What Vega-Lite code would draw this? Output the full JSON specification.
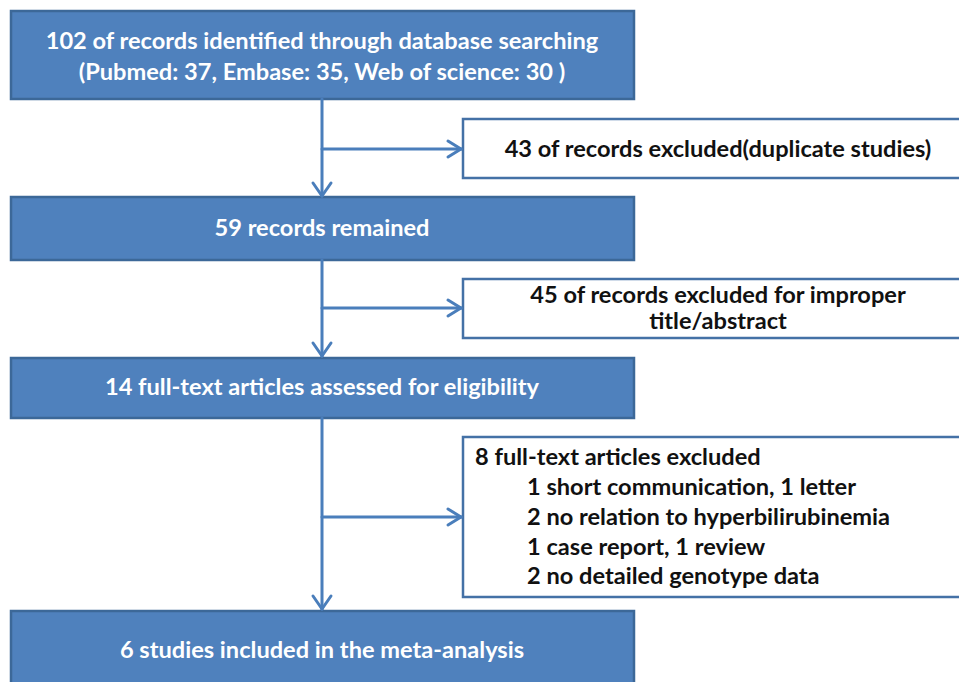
{
  "$schema": "https://vega.github.io/schema/vega-lite/v6.json",
  "width": 959,
  "height": 682,
  "padding": 0,
  "autosize": {"type": "none"},
  "background": "white",
  "config": {"view": {"stroke": null}},
  "datasets": {
    "boxes": [
      {"id": "b1", "kind": "main", "x": 11, "x2": 634, "y": 11, "y2": 99},
      {"id": "b2", "kind": "main", "x": 11, "x2": 634, "y": 197, "y2": 260},
      {"id": "b3", "kind": "main", "x": 11, "x2": 634, "y": 358, "y2": 418},
      {"id": "b4", "kind": "main", "x": 11, "x2": 634, "y": 611, "y2": 700},
      {"id": "e1", "kind": "side", "x": 463, "x2": 975, "y": 119, "y2": 178},
      {"id": "e2", "kind": "side", "x": 463, "x2": 975, "y": 279, "y2": 338},
      {"id": "e3", "kind": "side", "x": 463, "x2": 975, "y": 437, "y2": 597}
    ],
    "segments": [
      {"x": 322, "y": 99, "x2": 322, "y2": 196},
      {"x": 322, "y": 149, "x2": 461, "y2": 149},
      {"x": 322, "y": 260, "x2": 322, "y2": 356},
      {"x": 322, "y": 308, "x2": 461, "y2": 308},
      {"x": 322, "y": 418, "x2": 322, "y2": 609},
      {"x": 322, "y": 517, "x2": 461, "y2": 517},
      {"x": 313, "y": 183, "x2": 322, "y2": 196},
      {"x": 331, "y": 183, "x2": 322, "y2": 196},
      {"x": 313, "y": 343, "x2": 322, "y2": 356},
      {"x": 331, "y": 343, "x2": 322, "y2": 356},
      {"x": 313, "y": 596, "x2": 322, "y2": 609},
      {"x": 331, "y": 596, "x2": 322, "y2": 609},
      {"x": 448, "y": 141, "x2": 461, "y2": 149},
      {"x": 448, "y": 157, "x2": 461, "y2": 149},
      {"x": 448, "y": 300, "x2": 461, "y2": 308},
      {"x": 448, "y": 316, "x2": 461, "y2": 308},
      {"x": 448, "y": 509, "x2": 461, "y2": 517},
      {"x": 448, "y": 525, "x2": 461, "y2": 517}
    ],
    "texts": [
      {"kind": "main", "align": "center", "x": 322, "y": 42, "text": "102 of records identified through database searching"},
      {"kind": "main", "align": "center", "x": 322, "y": 73, "text": "(Pubmed: 37, Embase: 35, Web of science: 30 )"},
      {"kind": "main", "align": "center", "x": 322, "y": 229, "text": "59 records remained"},
      {"kind": "main", "align": "center", "x": 322, "y": 388, "text": "14 full-text articles assessed for eligibility"},
      {"kind": "main", "align": "center", "x": 322, "y": 651, "text": "6 studies included in the meta-analysis"},
      {"kind": "side", "align": "center", "x": 718, "y": 150, "text": "43 of records excluded(duplicate studies)"},
      {"kind": "side", "align": "center", "x": 718, "y": 296, "text": "45 of records excluded for improper"},
      {"kind": "side", "align": "center", "x": 718, "y": 322, "text": "title/abstract"},
      {"kind": "side", "align": "left", "x": 475, "y": 458, "text": "8 full-text articles excluded"},
      {"kind": "side", "align": "left", "x": 527, "y": 488, "text": "1 short communication, 1 letter"},
      {"kind": "side", "align": "left", "x": 527, "y": 518, "text": "2 no relation to hyperbilirubinemia"},
      {"kind": "side", "align": "left", "x": 527, "y": 548, "text": "1 case report, 1 review"},
      {"kind": "side", "align": "left", "x": 527, "y": 577, "text": "2 no detailed genotype data"}
    ]
  },
  "layer": [
    {
      "data": {"name": "boxes"},
      "mark": {"type": "rect", "strokeWidth": 2.5},
      "encoding": {
        "x": {"field": "x", "type": "quantitative", "scale": {"domain": [0, 959]}, "axis": null},
        "x2": {"field": "x2"},
        "y": {"field": "y", "type": "quantitative", "scale": {"domain": [0, 682], "reverse": true}, "axis": null},
        "y2": {"field": "y2"},
        "fill": {"field": "kind", "type": "nominal", "scale": {"domain": ["main", "side"], "range": ["#4f81bd", "#ffffff"]}, "legend": null},
        "stroke": {"field": "kind", "type": "nominal", "scale": {"domain": ["main", "side"], "range": ["#3c6898", "#4471a6"]}, "legend": null}
      }
    },
    {
      "data": {"name": "segments"},
      "mark": {"type": "rule", "color": "#4a7ebb", "strokeWidth": 3, "strokeCap": "round"},
      "encoding": {
        "x": {"field": "x", "type": "quantitative", "scale": {"domain": [0, 959]}, "axis": null},
        "x2": {"field": "x2"},
        "y": {"field": "y", "type": "quantitative", "scale": {"domain": [0, 682], "reverse": true}, "axis": null},
        "y2": {"field": "y2"}
      }
    },
    {
      "data": {"name": "texts"},
      "transform": [{"filter": "datum.align === 'center'"}],
      "mark": {"type": "text", "font": "Lato", "fontWeight": "bold", "fontSize": 23.6, "align": "center", "baseline": "middle"},
      "encoding": {
        "x": {"field": "x", "type": "quantitative", "scale": {"domain": [0, 959]}, "axis": null},
        "y": {"field": "y", "type": "quantitative", "scale": {"domain": [0, 682], "reverse": true}, "axis": null},
        "text": {"field": "text"},
        "color": {"field": "kind", "type": "nominal", "scale": {"domain": ["main", "side"], "range": ["#ffffff", "#111111"]}, "legend": null}
      }
    },
    {
      "data": {"name": "texts"},
      "transform": [{"filter": "datum.align === 'left'"}],
      "mark": {"type": "text", "font": "Lato", "fontWeight": "bold", "fontSize": 23.6, "align": "left", "baseline": "middle"},
      "encoding": {
        "x": {"field": "x", "type": "quantitative", "scale": {"domain": [0, 959]}, "axis": null},
        "y": {"field": "y", "type": "quantitative", "scale": {"domain": [0, 682], "reverse": true}, "axis": null},
        "text": {"field": "text"},
        "color": {"field": "kind", "type": "nominal", "scale": {"domain": ["main", "side"], "range": ["#ffffff", "#111111"]}, "legend": null}
      }
    }
  ]
}
